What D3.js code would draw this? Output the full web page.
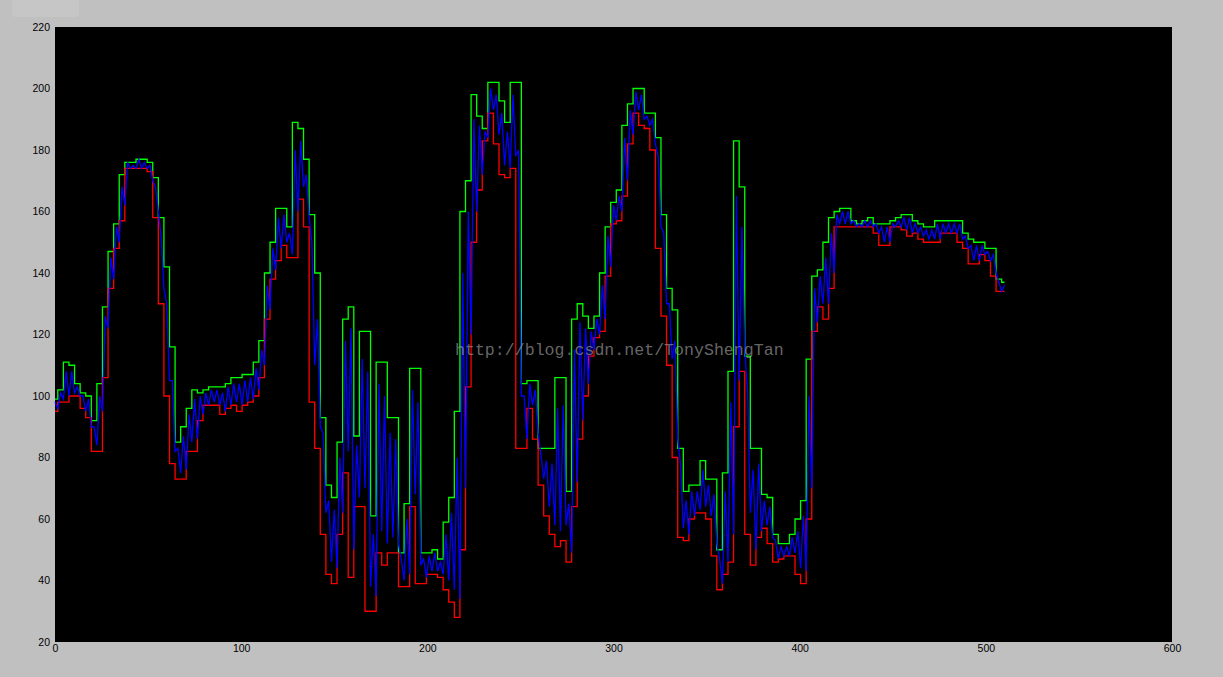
<!DOCTYPE html>
<html>
<head>
<meta charset="utf-8">
<script src="https://cdn.jsdelivr.net/npm/d3@7"></script>
<style>
  html, body { margin: 0; padding: 0; background: #c0c0c0; }
  .axis text { font-family: "Liberation Sans", Arial, sans-serif; font-size: 10.5px; fill: #000; }
  .axis path, .axis line { display: none; }
</style>
</head>
<body>
<div class="chart"></div>
<script>
// envelopes sampled every 3 frames, the tracked signal every 1.5 frames
const envStep = 3;
const sigStep = 1.5;

// upper envelope (green)
const upper = [
  99,102,111,110,104,101,100,92,104,129,147,156,172,176,176,177,177,176,171,158,
  142,116,85,90,96,102,101,102,103,103,103,104,106,106,107,107,111,118,140,150,
  161,161,155,189,187,177,159,140,93,71,67,85,125,129,87,121,121,61,111,111,
  93,93,49,65,109,109,49,49,50,47,59,67,95,160,170,198,191,187,202,202,
  196,189,202,202,104,105,105,83,83,83,106,106,69,125,130,126,122,126,140,155,
  163,167,188,195,200,200,192,192,184,159,135,128,83,69,71,71,79,73,73,50,
  75,108,183,168,113,83,83,68,67,55,52,52,55,60,66,112,139,141,150,158,
  160,161,161,157,156,157,158,156,156,156,157,158,159,159,157,156,155,155,157,157,
  157,157,157,153,151,150,150,148,148,138,137
];

// lower envelope (red)
const lower = [
  95,98,98,100,100,96,93,82,82,106,135,148,157,174,174,174,174,173,158,130,
  100,78,73,73,82,82,92,97,97,97,94,96,97,95,97,98,100,106,125,138,
  144,149,145,145,164,155,98,83,55,42,39,55,75,41,64,64,30,30,49,45,
  49,49,38,38,64,39,39,42,42,41,37,33,28,50,103,150,167,183,192,182,
  172,171,174,83,83,96,86,71,61,55,51,53,46,64,86,100,113,119,121,139,
  156,157,165,182,192,188,187,180,148,126,110,80,54,53,60,62,62,60,48,37,
  42,46,90,108,55,45,54,57,52,46,47,48,48,42,39,60,121,129,125,135,
  155,155,155,155,155,155,155,153,149,149,155,155,154,152,153,151,150,150,150,153,
  153,153,150,148,143,143,146,144,139,134,134
];

// tracked signal (blue)
const signal = [
  98,96,101,99,108,100,108,101,103,100,100,95,99,90,90,84,100,95,126,122,
  145,138,155,150,168,162,176,174,175,174,177,174,176,174,175,170,168,160,152,135,
  130,105,105,82,83,75,87,76,94,85,99,86,100,94,101,97,102,98,102,97,
  101,95,103,97,104,98,104,97,105,98,106,99,109,102,115,110,136,128,148,141,
  158,148,159,150,153,146,180,160,183,168,172,158,150,110,125,90,88,62,66,46,
  63,44,80,62,118,82,122,50,84,67,112,70,108,38,55,35,104,56,100,52,
  88,54,86,52,47,40,60,42,102,68,98,45,47,41,48,43,49,43,46,42,
  55,40,62,37,80,34,140,70,160,120,190,160,188,172,186,184,200,193,198,185,
  192,175,186,174,198,178,180,100,100,86,104,97,102,88,81,73,79,64,78,58,
  96,56,97,58,65,49,115,72,124,92,122,104,121,115,125,120,136,125,152,142,
  162,157,165,160,184,170,193,185,199,193,198,190,191,188,190,182,178,155,153,130,
  130,112,118,86,78,57,66,55,69,61,69,63,76,64,71,61,68,52,47,39,
  69,46,98,55,165,105,155,115,102,62,76,50,78,56,66,58,64,54,53,47,
  51,48,51,48,54,49,56,44,61,43,100,70,135,124,139,130,145,130,153,140,
  159,156,160,156,160,156,157,155,156,155,157,155,157,155,156,153,155,150,155,150,
  156,155,157,155,158,154,158,153,156,153,155,152,154,151,154,151,156,151,156,153,
  156,153,156,153,156,151,152,148,149,144,149,144,149,146,147,144,146,140,137,134,
  136
];

const xTicks = [0, 100, 200, 300, 400, 500, 600];
const yTicks = [20, 40, 60, 80, 100, 120, 140, 160, 180, 200, 220];

const margin = { top: 27, right: 51, bottom: 35, left: 55 };
const width  = 1223;
const height = 677;

const root = d3.select(".chart")
  .append("svg")
    .attr("width", width)
    .attr("height", height)
    .style("display", "block");

// faint window-tab remnant in the top left corner
root.append("rect")
  .attr("x", 12).attr("y", -6)
  .attr("width", 67).attr("height", 23)
  .attr("rx", 4)
  .attr("fill", "#c6c6c6");

const svg = root.append("g")
  .attr("transform", `translate(${margin.left},${margin.top})`);

const w = width - margin.left - margin.right;
const h = height - margin.top - margin.bottom;

const xScale = d3.scaleLinear().domain([0, 600]).range([0, w]);
const yScale = d3.scaleLinear().domain([20, 220]).range([h, 0]);

svg.append("rect")
  .attr("width", w)
  .attr("height", h)
  .attr("fill", "#000");

svg.append("g")
  .attr("class", "x axis")
  .attr("transform", `translate(0,${h})`)
  .call(d3.axisBottom(xScale).tickValues(xTicks).tickSize(0).tickPadding(3));

svg.append("g")
  .attr("class", "y axis")
  .call(d3.axisLeft(yScale).tickValues(yTicks).tickSize(0).tickPadding(5));

const envLine = d3.line()
  .x((d, i) => xScale(i * envStep))
  .y(d => yScale(d))
  .curve(d3.curveStep);

const sigLine = d3.line()
  .x((d, i) => xScale(i * sigStep))
  .y(d => yScale(d));

const series = [
  { values: upper,  color: "#00ff00", line: envLine },
  { values: lower,  color: "#ff0000", line: envLine },
  { values: signal, color: "#0000ff", line: sigLine }
];

svg.selectAll("path.trace")
  .data(series)
  .enter()
    .append("path")
    .attr("class", "trace")
    .attr("fill", "none")
    .attr("stroke", d => d.color)
    .attr("stroke-width", 1.3)
    .attr("d", d => d.line(d.values));

// blog watermark
svg.append("text")
  .attr("x", 455 - margin.left)
  .attr("y", 355 - margin.top)
  .attr("font-family", "'Liberation Mono', 'DejaVu Sans Mono', monospace")
  .attr("font-size", 16.6)
  .attr("fill", "#a0a0a0")
  .attr("fill-opacity", 0.65)
  .text("http://blog.csdn.net/TonyShengTan");
</script>
</body>
</html>
